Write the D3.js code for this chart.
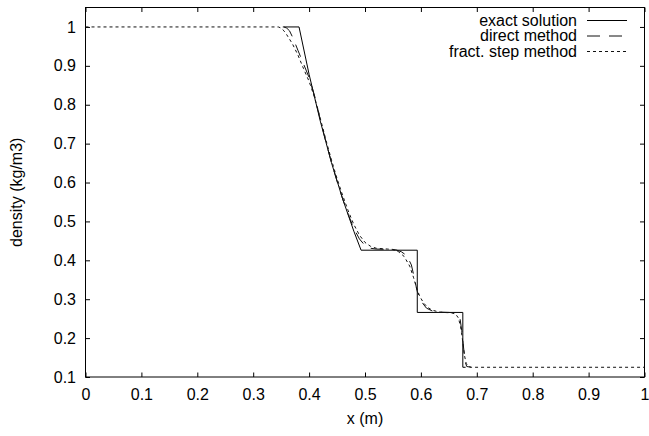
<!DOCTYPE html>
<html>
<head>
<meta charset="utf-8">
<script src="https://cdn.jsdelivr.net/npm/d3@7/dist/d3.min.js"></script>
<style>
  html, body { margin: 0; padding: 0; background: #fff; }
  svg { display: block; }
  text { font-family: "Liberation Sans", Arial, Helvetica, sans-serif; fill: #000; }
</style>
</head>
<body>
<svg id="chart" width="649" height="436"></svg>
<script>
// ---------- data ----------
const xTicks = [0, 0.1, 0.2, 0.3, 0.4, 0.5, 0.6, 0.7, 0.8, 0.9, 1];
const xTickLabels = ["0", "0.1", "0.2", "0.3", "0.4", "0.5", "0.6", "0.7", "0.8", "0.9", "1"];
const yTicks = [0.1, 0.2, 0.3, 0.4, 0.5, 0.6, 0.7, 0.8, 0.9, 1];
const yTickLabels = ["0.1", "0.2", "0.3", "0.4", "0.5", "0.6", "0.7", "0.8", "0.9", "1"];
const seriesNames = ["exact solution", "direct method", "fract. step method"];

const exactX   = [0.353, 0.382, 0.40, 0.42, 0.44, 0.46, 0.48, 0.493, 0.5935, 0.5935, 0.675, 0.675, 0.68];
const exactRho = [1.0,   1.0,   0.878, 0.758, 0.651, 0.558, 0.475, 0.426, 0.426, 0.266, 0.266, 0.125, 0.125];

const directX   = [0.355, 0.36, 0.365, 0.37, 0.375, 0.38, 0.39, 0.40, 0.41, 0.42, 0.43, 0.44, 0.45, 0.46, 0.47, 0.48, 0.49, 0.50, 0.51, 0.52, 0.54, 0.555, 0.565, 0.575, 0.583, 0.589, 0.593, 0.598, 0.604, 0.61, 0.62, 0.63, 0.65, 0.66, 0.665, 0.67, 0.673, 0.676, 0.679, 0.682, 0.69];
const directRho = [1.0,   0.997, 0.99, 0.975, 0.958, 0.94, 0.905, 0.87, 0.822, 0.762, 0.705, 0.652, 0.603, 0.558, 0.518, 0.482, 0.455, 0.438, 0.431, 0.429, 0.428, 0.427, 0.422, 0.412, 0.388, 0.35, 0.322, 0.303, 0.288, 0.277, 0.27, 0.267, 0.266, 0.265, 0.26, 0.25, 0.22, 0.18, 0.14, 0.127, 0.125];

const fractX   = [0, 0.345, 0.35, 0.355, 0.36, 0.37, 0.38, 0.39, 0.40, 0.41, 0.42, 0.43, 0.44, 0.45, 0.46, 0.47, 0.48, 0.49, 0.50, 0.51, 0.52, 0.54, 0.55, 0.56, 0.57, 0.58, 0.587, 0.592, 0.598, 0.605, 0.612, 0.62, 0.63, 0.64, 0.655, 0.662, 0.667, 0.671, 0.675, 0.678, 0.681, 0.685, 0.69, 1];
const fractRho = [1.0, 1.0, 0.997, 0.99, 0.98, 0.957, 0.928, 0.893, 0.86, 0.818, 0.765, 0.71, 0.658, 0.61, 0.567, 0.527, 0.492, 0.465, 0.446, 0.436, 0.431, 0.429, 0.428, 0.422, 0.41, 0.385, 0.355, 0.33, 0.307, 0.29, 0.279, 0.272, 0.268, 0.266, 0.265, 0.262, 0.252, 0.23, 0.19, 0.155, 0.135, 0.127, 0.125, 0.125];

// ---------- layout ----------
const L = 85.5, R = 644.5, T = 7.5, B = 377;
const svg = d3.select("#chart");
const x = d3.scaleLinear().domain([0, 1]).range([L, R]);
const y = d3.scaleLinear().domain([0.1, 1.05]).range([B, T]);
const fs = 16, tick = 4.5;

// axes with inward ticks
const gBottom = svg.append("g").attr("transform", `translate(0,${B})`)
  .call(d3.axisBottom(x).tickValues(xTicks).tickSizeInner(-tick).tickSizeOuter(0).tickPadding(11.5)
        .tickFormat((d, i) => xTickLabels[i]));
const gLeft = svg.append("g").attr("transform", `translate(${L},0)`)
  .call(d3.axisLeft(y).tickValues(yTicks).tickSizeInner(-tick).tickSizeOuter(0).tickPadding(9.5)
        .tickFormat((d, i) => yTickLabels[i]));
const gTop = svg.append("g").attr("transform", `translate(0,${T})`)
  .call(d3.axisTop(x).tickValues(xTicks).tickSizeInner(-tick).tickSizeOuter(0).tickFormat(""));
const gRight = svg.append("g").attr("transform", `translate(${R},0)`)
  .call(d3.axisRight(y).tickValues(yTicks).tickSizeInner(-tick).tickSizeOuter(0).tickFormat(""));
[gBottom, gLeft, gTop, gRight].forEach(g => {
  g.select(".domain").remove();
  g.selectAll("line").attr("stroke", "#000").attr("stroke-width", 1);
  g.selectAll("text").attr("font-size", fs).style("font-family", '"Liberation Sans", Arial, sans-serif').attr("fill", "#000");
});

// frame
svg.append("rect").attr("x", L).attr("y", T).attr("width", R - L).attr("height", B - T)
  .attr("fill", "none").attr("stroke", "#000").attr("stroke-width", 1);

// axis titles
svg.append("text").attr("x", (L + R) / 2).attr("y", 424).attr("text-anchor", "middle")
  .attr("font-size", fs).text("x (m)");
svg.append("text").attr("transform", `translate(22,${(T + B) / 2}) rotate(-90)`)
  .attr("text-anchor", "middle").attr("font-size", fs).text("density (kg/m3)");

// lines
const line = d3.line().x(d => x(d[0])).y(d => y(d[1]));
const series = [
  { name: seriesNames[0], xs: exactX,  ys: exactRho,  dash: null,   color: "#000" },
  { name: seriesNames[1], xs: directX, ys: directRho, dash: "13,9", color: "#111" },
  { name: seriesNames[2], xs: fractX,  ys: fractRho,  dash: "3,3",  color: "#111" }
];
const plot = svg.append("g");
series.forEach(s => {
  plot.append("path").datum(s.xs.map((v, i) => [v, s.ys[i]]))
    .attr("d", line).attr("fill", "none").attr("stroke", s.color).attr("stroke-width", 1)
    .attr("stroke-dasharray", s.dash);
});

// legend
const legend = svg.append("g");
series.forEach((s, i) => {
  const by = 25.5 + i * 15.5;
  legend.append("text").attr("x", 577).attr("y", by).attr("text-anchor", "end")
    .attr("font-size", fs).text(s.name);
  legend.append("line").attr("x1", 587).attr("x2", 627).attr("y1", by - 5).attr("y2", by - 5)
    .attr("stroke", s.color).attr("stroke-width", 1).attr("stroke-dasharray", s.dash);
});
</script>
</body>
</html>
